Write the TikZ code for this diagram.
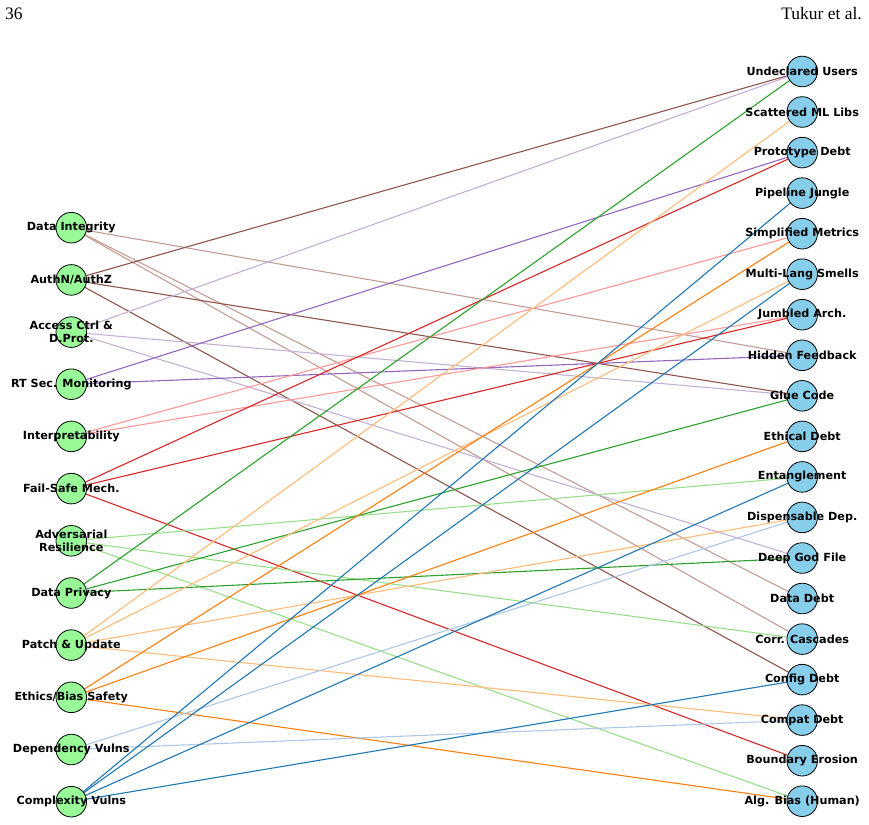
\documentclass[tikz,border=0pt]{standalone}
\usepackage{fontspec}
\newfontfamily\labfont{DejaVu Sans}
\newfontfamily\hdrfont{Liberation Serif}
\usepackage{tikz}
\usetikzlibrary{backgrounds}
\definecolor{tbrown}{HTML}{8C564B}
\definecolor{tbrownl}{HTML}{C49C94}
\definecolor{tpurple}{HTML}{9467BD}
\definecolor{tpurplel}{HTML}{C5B0D5}
\definecolor{tred}{HTML}{D62728}
\definecolor{tredl}{HTML}{FF9896}
\definecolor{tgreen}{HTML}{2CA02C}
\definecolor{tgreenl}{HTML}{98DF8A}
\definecolor{torange}{HTML}{FF7F0E}
\definecolor{torangel}{HTML}{FFBB78}
\definecolor{tblue}{HTML}{1F77B4}
\definecolor{tbluel}{HTML}{AEC7E8}
\definecolor{palegreen}{HTML}{98FB98}
\definecolor{skyblue}{HTML}{87CEEB}

\begin{document}
\begin{tikzpicture}[x=1pt,y=-1pt,
			sec/.style={circle,draw=black,line width=0.8pt,fill=palegreen,minimum size=30.6pt,inner sep=0pt},
			debt/.style={circle,draw=black,line width=0.8pt,fill=skyblue,minimum size=30.6pt,inner sep=0pt},
			lab/.style={font=\labfont\bfseries\fontsize{11.2}{13}\selectfont,align=center,inner sep=0pt},
			ec/.style={line width=1.1pt,draw=#1},
			hdr/.style={font=\hdrfont\fontsize{17.5}{20}\selectfont,inner sep=0pt}
			]
			\useasboundingbox (0,0) rectangle (869,824);
			\node[hdr,anchor=base west] (pg) at (5,19.5) {36};
			\node[hdr,anchor=base east] (au) at (862,19.5) {Tukur et al.};
			% security practices
			\node[sec] (di) at (71.3,227.7) {};
			\node[sec] (aa) at (71.3,279.9) {};
			\node[sec] (ac) at (71.3,332.1) {};
			\node[sec] (rt) at (71.3,384.2) {};
			\node[sec] (ip) at (71.3,436.4) {};
			\node[sec] (fs) at (71.3,488.6) {};
			\node[sec] (ar) at (71.3,540.8) {};
			\node[sec] (dp) at (71.3,593.0) {};
			\node[sec] (pu) at (71.3,645.1) {};
			\node[sec] (eb) at (71.3,697.3) {};
			\node[sec] (dv) at (71.3,749.5) {};
			\node[sec] (cv) at (71.3,801.7) {};
			% technical debt types
			\node[debt] (uu) at (802.2,71.5) {};
			\node[debt] (sm) at (802.2,112.0) {};
			\node[debt] (pd) at (802.2,152.6) {};
			\node[debt] (pj) at (802.2,193.1) {};
			\node[debt] (sme) at (802.2,233.7) {};
			\node[debt] (ml) at (802.2,274.2) {};
			\node[debt] (ja) at (802.2,314.7) {};
			\node[debt] (hf) at (802.2,355.3) {};
			\node[debt] (gc) at (802.2,395.8) {};
			\node[debt] (ed) at (802.2,436.4) {};
			\node[debt] (en) at (802.2,476.9) {};
			\node[debt] (dd) at (802.2,517.4) {};
			\node[debt] (gf) at (802.2,558.0) {};
			\node[debt] (da) at (802.2,598.5) {};
			\node[debt] (cc) at (802.2,639.1) {};
			\node[debt] (cd) at (802.2,679.6) {};
			\node[debt] (cp) at (802.2,720.1) {};
			\node[debt] (be) at (802.2,760.7) {};
			\node[debt] (ab) at (802.2,801.2) {};
			% links
			\begin{scope}[on background layer]
				\draw[ec=tbrownl] (di) -- (hf); \draw[ec=tbrownl] (di) -- (da); \draw[ec=tbrownl] (di) -- (cc);
				\draw[ec=tbrown] (aa) -- (uu); \draw[ec=tbrown] (aa) -- (gc); \draw[ec=tbrown] (aa) -- (cd);
				\draw[ec=tpurplel] (ac) -- (uu); \draw[ec=tpurplel] (ac) -- (gc); \draw[ec=tpurplel] (ac) -- (gf);
				\draw[ec=tpurple] (rt) -- (pd); \draw[ec=tpurple] (rt) -- (hf);
				\draw[ec=tredl] (ip) -- (sme); \draw[ec=tredl] (ip) -- (ja);
				\draw[ec=tred] (fs) -- (pd); \draw[ec=tred] (fs) -- (ja); \draw[ec=tred] (fs) -- (be);
				\draw[ec=tgreenl] (ar) -- (en); \draw[ec=tgreenl] (ar) -- (cc); \draw[ec=tgreenl] (ar) -- (ab);
				\draw[ec=tgreen] (dp) -- (uu); \draw[ec=tgreen] (dp) -- (gc); \draw[ec=tgreen] (dp) -- (gf);
				\draw[ec=torangel] (pu) -- (sm); \draw[ec=torangel] (pu) -- (ml); \draw[ec=torangel] (pu) -- (dd); \draw[ec=torangel] (pu) -- (cp);
				\draw[ec=torange] (eb) -- (sme); \draw[ec=torange] (eb) -- (ed); \draw[ec=torange] (eb) -- (ab);
				\draw[ec=tbluel] (dv) -- (dd); \draw[ec=tbluel] (dv) -- (cp);
				\draw[ec=tblue] (cv) -- (pj); \draw[ec=tblue] (cv) -- (ml); \draw[ec=tblue] (cv) -- (en); \draw[ec=tblue] (cv) -- (cd);
			\end{scope}
			% labels
			\node[lab] (ldi) at (di) {Data Integrity};
			\node[lab] (laa) at (aa) {AuthN/AuthZ};
			\node[lab] (lac) at (ac) {Access Ctrl \&\\D.Prot.};
			\node[lab] (lrt) at (rt) {RT Sec. Monitoring};
			\node[lab] (lip) at (ip) {Interpretability};
			\node[lab] (lfs) at (fs) {Fail-Safe Mech.};
			\node[lab] (lar) at (ar) {Adversarial\\Resilience};
			\node[lab] (ldp) at (dp) {Data Privacy};
			\node[lab] (lpu) at (pu) {Patch \& Update};
			\node[lab] (leb) at (eb) {Ethics/Bias Safety};
			\node[lab] (ldv) at (dv) {Dependency Vulns};
			\node[lab] (lcv) at (cv) {Complexity Vulns};
			\node[lab] (luu) at (uu) {Undeclared Users};
			\node[lab] (lsm) at (sm) {Scattered ML Libs};
			\node[lab] (lpd) at (pd) {Prototype Debt};
			\node[lab] (lpj) at (pj) {Pipeline Jungle};
			\node[lab] (lsme) at (sme) {Simplified Metrics};
			\node[lab] (lml) at (ml) {Multi-Lang Smells};
			\node[lab] (lja) at (ja) {Jumbled Arch.};
			\node[lab] (lhf) at (hf) {Hidden Feedback};
			\node[lab] (lgc) at (gc) {Glue Code};
			\node[lab] (led) at (ed) {Ethical Debt};
			\node[lab] (len) at (en) {Entanglement};
			\node[lab] (ldd) at (dd) {Dispensable Dep.};
			\node[lab] (lgf) at (gf) {Deep God File};
			\node[lab] (lda) at (da) {Data Debt};
			\node[lab] (lcc) at (cc) {Corr. Cascades};
			\node[lab] (lcd) at (cd) {Config Debt};
			\node[lab] (lcp) at (cp) {Compat Debt};
			\node[lab] (lbe) at (be) {Boundary Erosion};
			\node[lab] (lab) at (ab) {Alg. Bias (Human)};
		\end{tikzpicture}
\end{document}
